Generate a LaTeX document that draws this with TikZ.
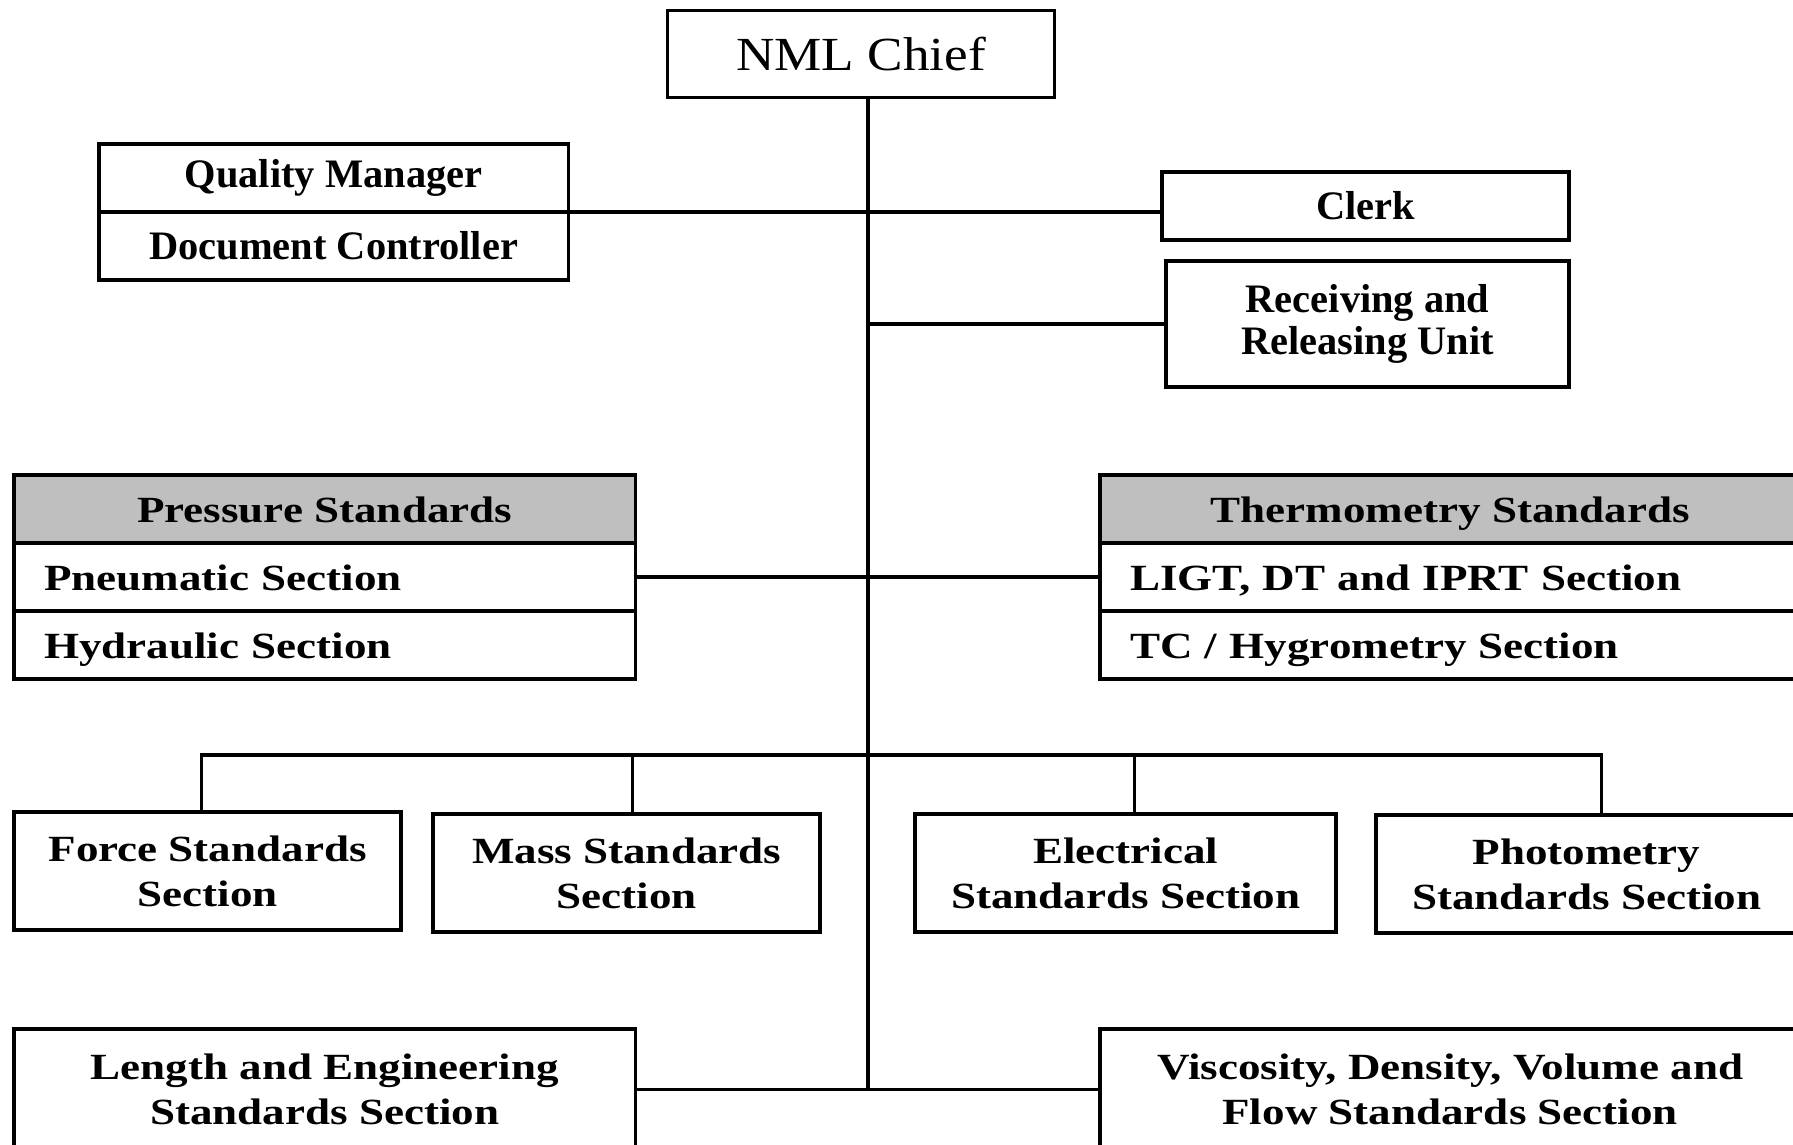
\documentclass[tikz,border=0pt]{standalone}
\usepackage{fontspec}
\setmainfont{Liberation Serif}
\newfontfamily\widefont[FakeStretch=1.22]{Liberation Serif}
\newfontfamily\chieffont[FakeStretch=1.12]{Liberation Serif}
\usetikzlibrary{positioning}
\definecolor{headgray}{RGB}{191,191,191}

\begin{document}
\begin{tikzpicture}
  [x=0.01cm,y=-0.01cm,
   every node/.style={outer sep=0pt},
   box/.style={draw,line width=1pt,align=center,inner sep=0pt},
   office/.style={box,font=\bfseries\fontsize{11.5}{12}\selectfont},
   head/.style={box,fill=headgray,minimum height=0.68cm,text height=2.1ex,text depth=0.45ex,
     font=\widefont\bfseries\fontsize{10.5}{12.7}\selectfont},
   row/.style={draw,line width=1pt,minimum height=0.68cm,inner xsep=0.3cm,
     inner ysep=0pt,text height=2.1ex,text depth=0.45ex,align=left,
     font=\widefont\bfseries\fontsize{10.5}{12.7}\selectfont},
   section/.style={box,font=\widefont\bfseries\fontsize{10.5}{12.7}\selectfont},
   link/.style={line width=1pt}]
  \useasboundingbox (0,0) rectangle (1793,1145);
  \clip (0,0) rectangle (1793,1145);

  \node [box,minimum width=3.87cm,minimum height=0.87cm,
    font=\chieffont\fontsize{13.5}{16}\selectfont] (chief) at (861,54) {NML Chief};

  \node [office,minimum width=4.69cm,minimum height=0.68cm,anchor=north west] (qm) at (99,144) {Quality Manager};
  \node [office,minimum width=4.69cm,minimum height=0.68cm] (dc) [below=0pt of qm] {Document Controller};
  \node [office,minimum width=4.07cm,minimum height=0.68cm,anchor=north west] (clerk) at (1162,172) {Clerk};
  \node [office,minimum width=4.03cm,minimum height=1.26cm,anchor=north west] (recv) at (1166,261) {Receiving and\\Releasing Unit};

  \node [head,minimum width=6.21cm,anchor=north west] (press) at (14,475) {Pressure Standards};
  \node [row,text width=5.61cm] (pneu) [below=0pt of press] {Pneumatic Section};
  \node [row,text width=5.61cm] (hydr) [below=0pt of pneu] {Hydraulic Section};

  \node [head,minimum width=7cm,anchor=north west] (thermo) at (1100,475) {Thermometry Standards};
  \node [row,text width=6.4cm] (ligt) [below=0pt of thermo] {LIGT, DT and IPRT Section};
  \node [row,text width=6.4cm] (tc) [below=0pt of ligt] {TC / Hygrometry Section};

  \node [section,minimum width=3.87cm,minimum height=1.18cm,anchor=north west] (force) at (14,812) {Force Standards\\Section};
  \node [section,minimum width=3.87cm,minimum height=1.18cm,anchor=north west] (mass) at (433,814) {Mass Standards\\Section};
  \node [section,minimum width=4.21cm,minimum height=1.18cm,anchor=north west] (elec) at (915,814) {Electrical\\Standards Section};
  \node [section,minimum width=4.21cm,minimum height=1.18cm,anchor=north west] (photo) at (1376,815) {Photometry\\Standards Section};

  \node [section,minimum width=6.21cm,minimum height=1.21cm,anchor=north west] (length) at (14,1029) {Length and Engineering\\Standards Section};
  \node [section,minimum width=7cm,minimum height=1.21cm,anchor=north west] (visc) at (1100,1029) {Viscosity, Density, Volume and\\Flow Standards Section};

  \coordinate (trunk) at ([xshift=0.07cm]chief.south);
  \coordinate (bus) at (trunk |- 0,755);

  \draw [link] (trunk) -- (trunk |- length.east);
  \draw [link] (qm.south east) -- (qm.south east -| clerk.west);
  \draw [link] (recv.west) -- (recv.west -| trunk);
  \draw [link] (pneu.east) -- (ligt.west);
  \draw [link] ([xshift=-0.06cm]force.north) |- (bus) -| ([xshift=0.15cm]photo.north);
  \draw [link] ([xshift=0.06cm]mass.north) -- ([xshift=0.06cm]mass.north |- bus);
  \draw [link] ([xshift=0.09cm]elec.north) -- ([xshift=0.09cm]elec.north |- bus);
  \draw [link] (length.east) -- (visc.west);
\end{tikzpicture}
\end{document}
